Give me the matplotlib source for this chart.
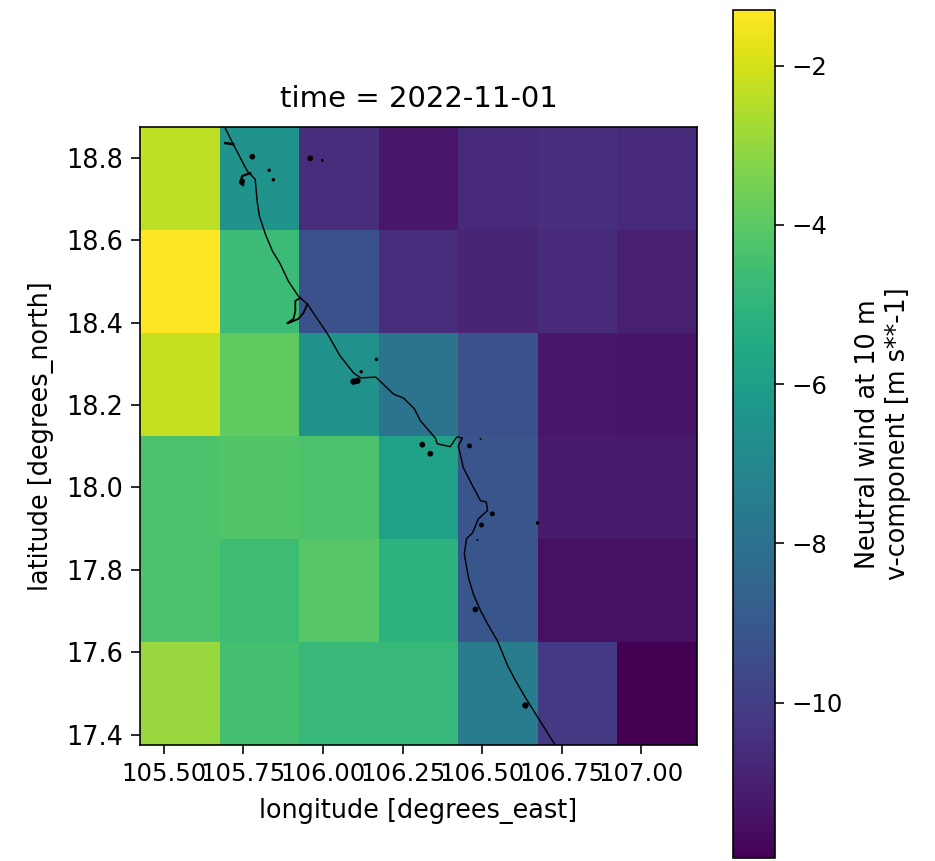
import matplotlib
matplotlib.use("Agg")
import matplotlib.pyplot as plt
import numpy as np

lon = [105.55, 105.80, 106.05, 106.30, 106.55, 106.80, 107.05]
lat = [18.75, 18.50, 18.25, 18.00, 17.75, 17.50]

# v wind, top row first
row1 = [-2.35, -6.5, -10.6, -11.3, -10.7, -10.5, -10.7]
row2 = [-1.3, -4.7, -9.3, -10.6, -10.9, -10.7, -11.0]
row3 = [-2.25, -3.9, -6.6, -7.9, -9.3, -11.3, -11.4]
row4 = [-4.3, -4.2, -4.3, -5.9, -9.2, -11.2, -11.2]
row5 = [-4.3, -4.6, -4.1, -5.1, -9.1, -11.5, -11.5]
row6 = [-2.95, -4.5, -4.8, -4.8, -7.5, -10.2, -11.95]

coast_lon = [105.693, 105.718, 105.762, 105.787, 105.793, 105.800, 105.819, 105.841, 105.866, 105.891,
             105.922, 105.951, 106.014, 106.054, 106.096, 106.119, 106.166, 106.221, 106.253, 106.287,
             106.306, 106.353, 106.359, 106.400, 106.416, 106.422, 106.438, 106.425, 106.441, 106.470,
             106.495, 106.513, 106.517, 106.488, 106.470, 106.451, 106.444, 106.457, 106.473, 106.495,
             106.520, 106.548, 106.580, 106.605, 106.636, 106.730]
coast_lat = [18.872, 18.833, 18.768, 18.748, 18.695, 18.659, 18.615, 18.574, 18.542, 18.501,
             18.465, 18.445, 18.373, 18.319, 18.278, 18.266, 18.268, 18.227, 18.217, 18.191,
             18.162, 18.120, 18.106, 18.099, 18.118, 18.123, 18.120, 18.101, 18.048, 18.004,
             17.968, 17.965, 17.944, 17.924, 17.890, 17.876, 17.839, 17.781, 17.740, 17.701,
             17.665, 17.628, 17.568, 17.531, 17.490, 17.374]

hook1_lon = [105.929, 105.913, 105.913, 105.907, 105.888]
hook1_lat = [18.460, 18.453, 18.428, 18.409, 18.399]
hook2_lon = [105.951, 105.938, 105.922, 105.891]
hook2_lat = [18.445, 18.423, 18.409, 18.399]
hook3_lon = [105.771, 105.746, 105.740, 105.749]
hook3_lat = [18.763, 18.756, 18.739, 18.734]
bar_lon = [105.693, 105.718]
bar_lat = [18.836, 18.833]

island_lon = [105.778, 105.960, 105.998, 105.831, 105.844, 106.168, 106.120, 106.108, 106.096, 106.460,
              106.495, 106.674, 106.498, 106.485, 106.479, 106.636, 106.312, 106.337, 106.532, 105.746]
island_lat = [18.803, 18.799, 18.794, 18.770, 18.747, 18.311, 18.281, 18.259, 18.257, 18.101,
              18.118, 17.914, 17.909, 17.873, 17.704, 17.471, 18.104, 18.082, 17.936, 18.743]
island_size = [8, 8, 2, 3, 3, 3, 3, 10, 10, 6,
               1, 3, 6, 1, 8, 10, 8, 8, 6, 8]

v = np.array([row1, row2, row3, row4, row5, row6])

fig = plt.figure(figsize=(935 / 146, 861 / 146), dpi=146)
ax = fig.add_axes([140 / 935, 116 / 861, 557 / 935, 618 / 861])
cax = fig.add_axes([733 / 935, 3 / 861, 42 / 935, 848 / 861])

mesh = ax.pcolormesh(lon, lat, v, cmap="viridis", vmin=-11.95, vmax=-1.3, shading="nearest")

ax.plot(coast_lon, coast_lat, color="black", lw=0.7)
ax.plot(hook1_lon, hook1_lat, color="black", lw=0.9)
ax.plot(hook2_lon, hook2_lat, color="black", lw=0.9)
ax.plot(hook3_lon, hook3_lat, color="black", lw=1.1)
ax.plot(bar_lon, bar_lat, color="black", lw=1.2)
ax.scatter(island_lon, island_lat, s=island_size, color="black", linewidths=0)

ax.set_xlim(105.425, 107.175)
ax.set_ylim(17.375, 18.875)
ax.set_xticks([105.5, 105.75, 106.0, 106.25, 106.5, 106.75, 107.0])
ax.set_xticklabels(["105.50", "105.75", "106.00", "106.25", "106.50", "106.75", "107.00"])
ax.set_yticks([17.4, 17.6, 17.8, 18.0, 18.2, 18.4, 18.6, 18.8])
ax.tick_params(labelsize=12, length=4.2, pad=4)
ax.tick_params(axis="y", labelsize=12.6)
ax.set_xlabel("longitude [degrees_east]", fontsize=12.6, labelpad=6)
ax.set_ylabel("latitude [degrees_north]", fontsize=12.6, labelpad=6)
ax.set_title("time = 2022-11-01", fontsize=14.4, pad=10)

cb = fig.colorbar(mesh, cax=cax)
cb.set_ticks([-2, -4, -6, -8, -10])
cb.ax.tick_params(labelsize=12, length=4.2, pad=4)
cb.set_label("Neutral wind at 10 m\nv-component [m s**-1]", fontsize=12.6, labelpad=6)

plt.savefig("out.png", dpi=146)
